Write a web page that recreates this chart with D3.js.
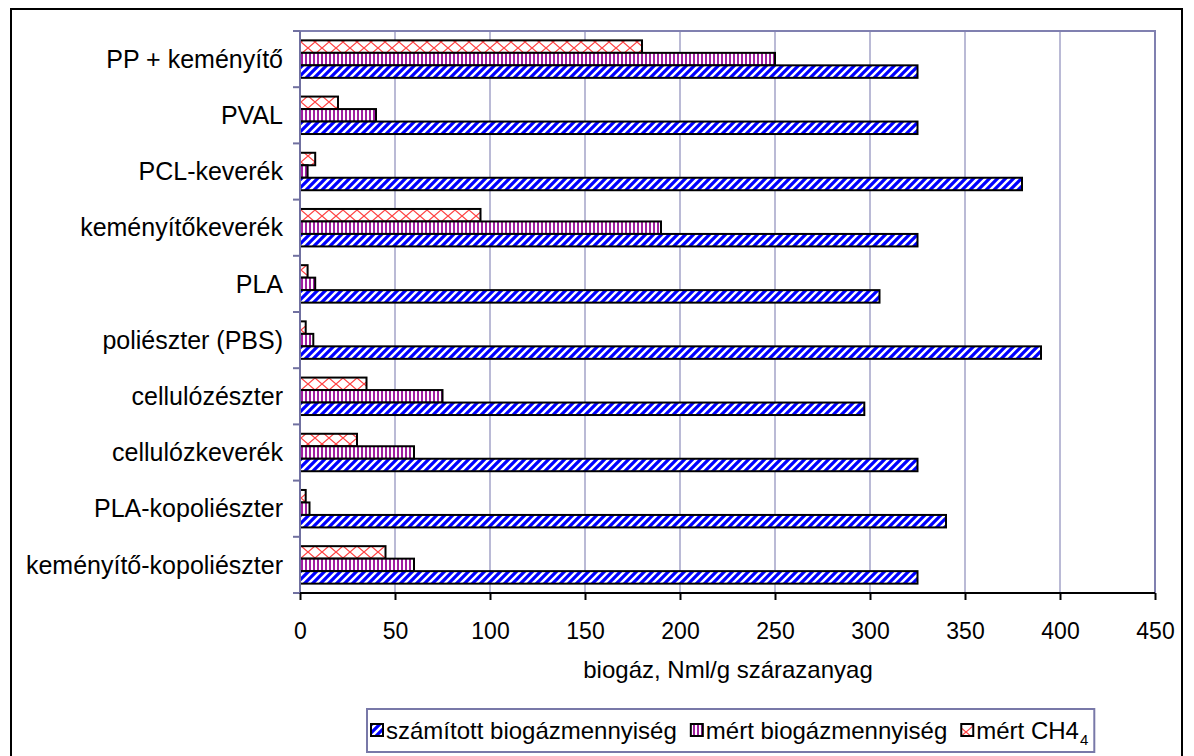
<!DOCTYPE html>
<html><head><meta charset="utf-8">
<script src="https://cdn.jsdelivr.net/npm/d3@7/dist/d3.min.js"></script>
<style>
html,body{margin:0;padding:0;background:#fff;}
text{font-family:"Liberation Sans",Arial,sans-serif;fill:#000;}
</style></head>
<body><svg id="c" width="1194" height="756"></svg>
<script>
const categories = ["PP + keményítő","PVAL","PCL-keverék","keményítőkeverék","PLA","poliészter (PBS)","cellulózészter","cellulózkeverék","PLA-kopoliészter","keményítő-kopoliészter"];
const szamitott = [325,325,380,325,305,390,297,325,340,325];
const mert = [250,40,4,190,8,7,75,60,5,60];
const ch4 = [180,20,8,95,4,3,35,30,3,45];
const xTicks = [0,50,100,150,200,250,300,350,400,450];
const seriesNames = ["számított biogázmennyiség","mért biogázmennyiség","mért CH4"];

const svg = d3.select("#c");
const defs = svg.append("defs");
const pb = defs.append("pattern").attr("id","pBlue").attr("patternUnits","userSpaceOnUse").attr("width",8).attr("height",8);
pb.append("rect").attr("width",8).attr("height",8).attr("fill","#fff");
pb.append("path").attr("d","M-2,10 L10,-2 M-2,2 L2,-2 M6,10 L10,6").attr("stroke","#0000ff").attr("stroke-width",3.2);
const pp = defs.append("pattern").attr("id","pPurple").attr("patternUnits","userSpaceOnUse").attr("width",4).attr("height",4);
pp.append("rect").attr("width",4).attr("height",4).attr("fill","#fff");
pp.append("rect").attr("x",1).attr("width",2).attr("height",4).attr("fill","#a020a0");
const pr = defs.append("pattern").attr("id","pRed").attr("patternUnits","userSpaceOnUse").attr("width",14).attr("height",12);
pr.append("rect").attr("width",14).attr("height",12).attr("fill","#fff");
pr.append("path").attr("d","M0,0 L14,12 M14,0 L0,12").attr("stroke","#ff4040").attr("stroke-width",1.2).attr("fill","none");

const L=300,R=1155,T=31,B=593;
const x = d3.scaleLinear().domain([0,450]).range([L,R]);
const y = d3.scaleBand().domain(categories).range([T,B]).padding(0);
const bh = y.bandwidth()/4.5;

svg.append("rect").attr("x",11).attr("y",9).attr("width",1171).attr("height",770).attr("fill","none").attr("stroke","#000").attr("stroke-width",2);

svg.append("g").selectAll("line").data(xTicks.slice(1)).join("line")
  .attr("x1",d=>x(d)).attr("x2",d=>x(d)).attr("y1",T).attr("y2",B)
  .attr("stroke","#8c8cba").attr("stroke-width",1.2);
svg.append("path").attr("d",`M${L},${T}H${R}V${B}`).attr("fill","none").attr("stroke","#8080b0").attr("stroke-width",2);

const series = [
  {vals:ch4, fill:"url(#pRed)", off:0},
  {vals:mert, fill:"url(#pPurple)", off:1},
  {vals:szamitott, fill:"url(#pBlue)", off:2}
];
series.forEach(s=>{
  svg.append("g").selectAll("rect").data(categories).join("rect")
    .attr("x",x(0)).attr("y",(d)=>y(d)+0.75*bh+s.off*bh)
    .attr("width",(d,i)=>x(s.vals[i])-x(0)).attr("height",bh)
    .attr("fill",s.fill).attr("stroke","#000").attr("stroke-width",2);
});

const bounds = categories.map(c=>y(c)).concat([B]);
svg.append("line").attr("x1",L).attr("x2",L).attr("y1",T).attr("y2",B).attr("stroke","#7070a0").attr("stroke-width",2);
svg.append("g").selectAll("line").data(bounds).join("line")
  .attr("x1",L-7).attr("x2",L).attr("y1",d=>d).attr("y2",d=>d).attr("stroke","#7070a0").attr("stroke-width",2);
svg.append("g").selectAll("text").data(categories).join("text")
  .attr("x",283).attr("y",d=>y(d)+y.bandwidth()/2).attr("dy","0.35em")
  .attr("text-anchor","end").attr("font-size",25).text(d=>d);

const xa = svg.append("g").attr("transform",`translate(0,${B})`)
  .call(d3.axisBottom(x).tickValues(xTicks).tickSize(7).tickPadding(23).tickFormat(d3.format("d")));
xa.select(".domain").attr("stroke","#000").attr("stroke-width",2).attr("d",`M${L},0H${R}`);
xa.selectAll(".tick line").attr("stroke","#000").attr("stroke-width",2);
xa.selectAll(".tick text").attr("font-size",23).attr("font-family","Liberation Sans, Arial, sans-serif").attr("fill","#000");
svg.append("text").attr("x",728).attr("y",678).attr("text-anchor","middle").attr("font-size",24).text("biogáz, Nml/g szárazanyag");

// legend
const legFills = ["url(#pBlue)","url(#pPurple)","url(#pRed)"];
const lg = svg.append("g");
const box = lg.append("rect").attr("x",367).attr("y",709).attr("height",43).attr("fill","#fff").attr("stroke","#7878a8").attr("stroke-width",2);
let cx = 371;
legFills.forEach((f,i)=>{
  lg.append("rect").attr("x",cx).attr("y",724).attr("width",12).attr("height",12).attr("fill",f).attr("stroke","#000").attr("stroke-width",2);
  const t = lg.append("text").attr("x",cx+15).attr("y",739).attr("font-size",24).text(seriesNames[i]);
  cx += 15 + t.node().getComputedTextLength();
  if(i===2){
    const s = lg.append("text").attr("x",cx+1).attr("y",745).attr("font-size",15).text("4");
    cx += 1 + s.node().getComputedTextLength();
  }
  cx += 14;
});
box.attr("width",cx - 14 + 6 - 367);
</script></body></html>
